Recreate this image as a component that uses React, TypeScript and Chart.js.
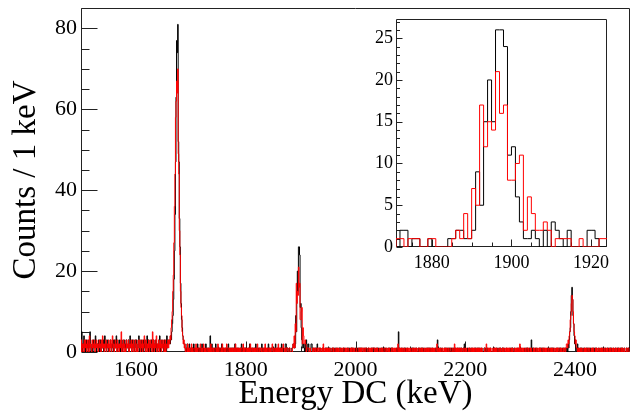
import React, { useEffect, useRef } from 'react';
import { Chart, registerables } from 'chart.js';

Chart.register(...registerables);

const FONT = '"Liberation Serif", "Times New Roman", serif';

// ---------------- axes ----------------
const X_MIN = 1500;
const X_MAX = 2500;
const X_TICKS = [1600, 1800, 2000, 2200, 2400];
const Y_TICKS = [0, 20, 40, 60, 80];
const Y_MAX = 85.05;

const INSET_X_MIN = 1871;
const INSET_X_MAX = 1924;
const INSET_X_TICKS = [1880, 1900, 1920];
const INSET_Y_TICKS = [0, 5, 10, 15, 20, 25];
const INSET_Y_MAX = 27.3;

// ---------------- data (counts per 1 keV bin) ----------------
// background below first peak, starts at 1500 keV
const BLACK_LOW_START = 1500;
const BLACK_LOW = '2150214102 3121031520 1203112410 2213013021 1302412031 2101320213 0231142012 3102130213 1203211302 4120312103 2130124021 3012031302 1420312013 2103120312 0213401231 2103120413 20312';
const RED_LOW_START = 1500;
const RED_LOW = '1302120313 2013204121 0312130213 2102312031 4120213012 1302130241 2013120312 0213502130 2103121302 1230213012 3021032130 2130214203 1021302312 0513021340 2130213021 3102301213 12031';

// first peak, starts at 1661 keV
const PEAK1_START = 1661;
const BLACK_PEAK1 = [2, 3, 2, 4, 3, 5, 7, 9, 13, 18, 25, 34, 47, 63, 77, 74, 81, 52, 47, 33, 26, 17, 12, 8, 6, 4, 3, 2, 2, 1, 0];
const RED_PEAK1 = [3, 2, 4, 3, 6, 8, 10, 15, 19, 27, 36, 44, 58, 62, 67, 64, 70, 49, 44, 30, 24, 15, 11, 9, 5, 4, 2, 3, 1, 2, 0];

// between first and second peak, starts at 1692 keV
const MID_START = 1692;
const BLACK_MID = '1021012001 0110201010 0201100102 1010012010 0100410201 0010201100 1001020101 0011010200 1010100102 0100101001 0201001010 1000102010 0110010201 0010100120 1001010010 2010011001 0102001011 0010210102';
const RED_MID = '1102010110 2010011020 1011002101 0120101001 1010020110 1001101020 1100102011 0101200110 1010011010 2011001010 1100201011 0101010201 1010010110 2001011010 0110201001 1010100210 1001011020 1011001210';

// second peak (also the inset), 1871..1923 keV
const INSET_START = 1871;
const BLACK_INSET = [0, 0, 2, 2, 0, 1, 1, 0, 0, 1, 0, 0, 0, 0, 1, 1, 2, 2, 1, 1, 2, 9, 5, 15, 20, 15, 26, 26, 24, 11, 12, 6, 3, 1, 1, 2, 1, 0, 2, 0, 3, 2, 1, 0, 2, 0, 0, 0, 0, 2, 2, 1, 0];
const RED_INSET = [0, 1, 1, 0, 1, 1, 1, 0, 0, 1, 1, 0, 0, 0, 0, 1, 2, 1, 4, 1, 7, 5, 17, 12, 15, 14, 21, 16, 17, 8, 8, 10, 11, 2, 6, 4, 2, 2, 3, 2, 0, 1, 1, 1, 1, 0, 0, 1, 0, 0, 0, 0, 1];

// between second and third peak, starts at 1924 keV
const HIGH_START = 1924;
const BLACK_HIGH = '1001010200 0110001010 0010110001 1000101001 0101000110 1000010100 0011010001 1010001001 0100101010 0010100100 1000001011 0100100101 0001010010 1010001001 0110100000 0101050100 1001001010 0100000110 1010010010 0010100101 0100010010 1010100100 0010013010 0100100001 1001010010 0100101001 0010010100 1001020100 0100100101 0000110010 1001001000 0110100100 0010000011 1001001001 0100110100 0010000010 1011001000 0100100110 0000010010 1001000301 0100100100 0011010010 1000001001 0100110100 0010010010 1001001001 01';
const RED_HIGH = '0110100101 1001001020 0101010010 1000110100 0101001001 0010110010 1001000101 0110100010 0011010101 1010011100 1101010011 1010010100 0100101001 1001001010 0010110010 1001201010 0101001001 0010100100 1001010010 0110100101 0010010100 1100101010 0100120100 1010010010 0101001001 1000100210 0101010100 1001001010 0010100101 0101001010 1001010100 0010021001 0101000100 1010100010 0100101001 0011010100 1001000101 0100102010 0101001001 1010010100 0101001001 0010100110 1001010010 0100101001 0010101100 1010010110 12';

// third peak, starts at 2386 keV
const PEAK3_START = 2386;
const BLACK_PEAK3 = [1, 0, 2, 1, 3, 5, 6, 10, 14, 16, 13, 9, 7, 4, 2, 3, 1, 1, 0, 2];
const RED_PEAK3 = [2, 1, 3, 2, 4, 5, 8, 9, 12, 14, 13, 10, 7, 5, 4, 2, 3, 1, 1, 0];

// above third peak, starts at 2406 keV
const TAIL_START = 2406;
const BLACK_TAIL = '0100101001 0010010100 1001000101 0100100010 0010010100 1000101001 0100010010 0010100101 0100100010 0101';
const RED_TAIL = '1010010100 0101001001 1000101010 0010100100 1001010010 0100100101 0010010010 1001001001 0100100010 0110';

// ---------------- helpers ----------------
type Seg = [number, number[]];
const digits = (s: string): number[] => s.replace(/\s+/g, '').split('').map(Number);

function assemble(segs: Seg[]): number[] {
  const out: number[] = new Array(X_MAX - X_MIN).fill(0);
  for (const [start, vals] of segs) {
    vals.forEach((v, i) => {
      const k = start - X_MIN + i;
      if (k >= 0 && k < out.length) out[k] = v;
    });
  }
  return out;
}

function steps(vals: number[], start: number) {
  const pts = vals.map((v, i) => ({ x: start + i, y: v }));
  pts.push({ x: start + vals.length, y: vals[vals.length - 1] });
  return pts;
}

const BLACK_ALL = assemble([
  [BLACK_LOW_START, digits(BLACK_LOW)],
  [PEAK1_START, BLACK_PEAK1],
  [MID_START, digits(BLACK_MID)],
  [INSET_START, BLACK_INSET],
  [HIGH_START, digits(BLACK_HIGH)],
  [PEAK3_START, BLACK_PEAK3],
  [TAIL_START, digits(BLACK_TAIL)],
]);
const RED_ALL = assemble([
  [RED_LOW_START, digits(RED_LOW)],
  [PEAK1_START, RED_PEAK1],
  [MID_START, digits(RED_MID)],
  [INSET_START, RED_INSET],
  [HIGH_START, digits(RED_HIGH)],
  [PEAK3_START, RED_PEAK3],
  [TAIL_START, digits(RED_TAIL)],
]);

// frame + inward ticks (ROOT style)
const frameTicks = {
  id: 'frameTicks',
  beforeDatasetsDraw(chart: any, _args: any, o: any) {
    const { ctx, chartArea: a, scales } = chart;
    const xs = scales.x;
    const ys = scales.y;
    ctx.save();
    ctx.strokeStyle = o.color;
    ctx.lineWidth = 1;
    ctx.beginPath();
    const L = Math.round(a.left) + 0.5;
    const R = Math.round(a.right) - 0.5;
    const T = Math.round(a.top) + 0.5;
    const B = Math.round(a.bottom) - 0.5;
    ctx.rect(L, T, R - L, B - T);
    const ny = Math.floor((ys.max - o.yFrom) / o.yMinor + 1e-6);
    for (let i = 0; i <= ny; i++) {
      const v = o.yFrom + i * o.yMinor;
      const p = Math.round(ys.getPixelForValue(v)) + 0.5;
      const r = v / o.yMajor;
      const len = Math.abs(r - Math.round(r)) < 1e-6 ? o.yMajorLen : o.yMinorLen;
      ctx.moveTo(L, p);
      ctx.lineTo(L + len, p);
    }
    const nx = Math.floor((xs.max - o.xFrom) / o.xMinor + 1e-6);
    for (let i = 0; i <= nx; i++) {
      const v = o.xFrom + i * o.xMinor;
      if (v <= xs.min || v >= xs.max) continue;
      const p = Math.round(xs.getPixelForValue(v)) + 0.5;
      const r = v / o.xMajor;
      const len = Math.abs(r - Math.round(r)) < 1e-6 ? o.xMajorLen : o.xMinorLen;
      ctx.moveTo(p, B);
      ctx.lineTo(p, B - len);
    }
    ctx.stroke();
    ctx.restore();
  },
};

function histDataset(label: string, pts: { x: number; y: number }[], color: string, order: number) {
  return {
    label,
    data: pts,
    borderColor: color,
    backgroundColor: color,
    borderWidth: 1,
    stepped: 'after' as const,
    pointRadius: 0,
    pointHoverRadius: 0,
    fill: false,
    tension: 0,
    order,
  };
}

const plain = (v: any) => String(v);

export default function App() {
  const mainRef = useRef<HTMLCanvasElement>(null);
  const insetRef = useRef<HTMLCanvasElement>(null);

  useEffect(() => {
    const main = new Chart(mainRef.current as HTMLCanvasElement, {
      type: 'line',
      data: {
        datasets: [
          histDataset('red', steps(RED_ALL, X_MIN), '#ff0000', 0),
          histDataset('black', steps(BLACK_ALL, X_MIN), '#000000', 1),
        ] as any,
      },
      options: {
        animation: false,
        responsive: false,
        devicePixelRatio: 1,
        parsing: false,
        normalized: true,
        layout: { padding: { left: 0, top: 8, right: 6, bottom: 0 } },
        plugins: {
          legend: { display: false },
          tooltip: { enabled: false },
          frameTicks: {
            color: '#222',
            yFrom: 0, yMinor: 5, yMajor: 20, yMajorLen: 16, yMinorLen: 8,
            xFrom: 1500, xMinor: 50, xMajor: 200, xMajorLen: 10, xMinorLen: 5,
          },
        } as any,
        scales: {
          x: {
            type: 'linear',
            min: X_MIN,
            max: X_MAX,
            grid: { display: false, drawTicks: false },
            border: { display: false },
            afterBuildTicks: (s: any) => { s.ticks = X_TICKS.map((v) => ({ value: v })); },
            afterFit: (s: any) => { s.height = 62; s.paddingLeft = 0; s.paddingRight = 0; },
            ticks: { font: { family: FONT, size: 22 }, color: '#000', padding: 5, maxRotation: 0, autoSkip: false, callback: plain },
            title: { display: true, text: 'Energy DC (keV)', font: { family: FONT, size: 33 }, color: '#000', padding: { top: 0, bottom: 0 } },
          },
          y: {
            type: 'linear',
            min: 0,
            max: Y_MAX,
            grid: { display: false, drawTicks: false },
            border: { display: false },
            afterBuildTicks: (s: any) => { s.ticks = Y_TICKS.map((v) => ({ value: v })); },
            afterFit: (s: any) => { s.width = 81; s.paddingTop = 0; s.paddingBottom = 0; },
            ticks: { font: { family: FONT, size: 22 }, color: '#000', padding: 4, autoSkip: false, callback: plain },
            title: { display: true, text: 'Counts / 1 keV', font: { family: FONT, size: 33 }, color: '#000', padding: { top: 7, bottom: 0 } },
          },
        },
      } as any,
      plugins: [frameTicks as any],
    });

    const inset = new Chart(insetRef.current as HTMLCanvasElement, {
      type: 'line',
      data: {
        datasets: [
          histDataset('red', steps(RED_INSET, INSET_START), '#ff0000', 0),
          histDataset('black', steps(BLACK_INSET, INSET_START), '#000000', 1),
        ] as any,
      },
      options: {
        animation: false,
        responsive: false,
        devicePixelRatio: 1,
        parsing: false,
        layout: { padding: { left: 0, top: 9, right: 17, bottom: 0 } },
        plugins: {
          legend: { display: false },
          tooltip: { enabled: false },
          frameTicks: {
            color: '#222',
            yFrom: 0, yMinor: 1, yMajor: 5, yMajorLen: 6, yMinorLen: 3.5,
            xFrom: 1875, xMinor: 5, xMajor: 20, xMajorLen: 7, xMinorLen: 4,
          },
        } as any,
        scales: {
          x: {
            type: 'linear',
            min: INSET_X_MIN,
            max: INSET_X_MAX,
            grid: { display: false, drawTicks: false },
            border: { display: false },
            afterBuildTicks: (s: any) => { s.ticks = INSET_X_TICKS.map((v) => ({ value: v })); },
            afterFit: (s: any) => { s.height = 28; s.paddingLeft = 0; s.paddingRight = 0; },
            ticks: { font: { family: FONT, size: 18 }, color: '#000', padding: 5, maxRotation: 0, autoSkip: false, callback: plain },
          },
          y: {
            type: 'linear',
            min: 0,
            max: INSET_Y_MAX,
            grid: { display: false, drawTicks: false },
            border: { display: false },
            afterBuildTicks: (s: any) => { s.ticks = INSET_Y_TICKS.map((v) => ({ value: v })); },
            afterFit: (s: any) => { s.width = 40; s.paddingTop = 0; s.paddingBottom = 0; },
            ticks: { font: { family: FONT, size: 18 }, color: '#000', padding: 3, autoSkip: false, callback: plain },
          },
        },
      } as any,
      plugins: [frameTicks as any],
    });

    return () => {
      main.destroy();
      inset.destroy();
    };
  }, []);

  return (
    <div style={{ position: 'fixed', left: 0, top: 0, width: 636, height: 414, background: '#fff' }}>
      <canvas ref={mainRef} width={636} height={414} style={{ position: 'absolute', left: 0, top: 0, width: 636, height: 414 }} />
      <canvas ref={insetRef} width={268} height={265} style={{ position: 'absolute', left: 356, top: 10, width: 268, height: 265, background: '#fff' }} />
    </div>
  );
}
